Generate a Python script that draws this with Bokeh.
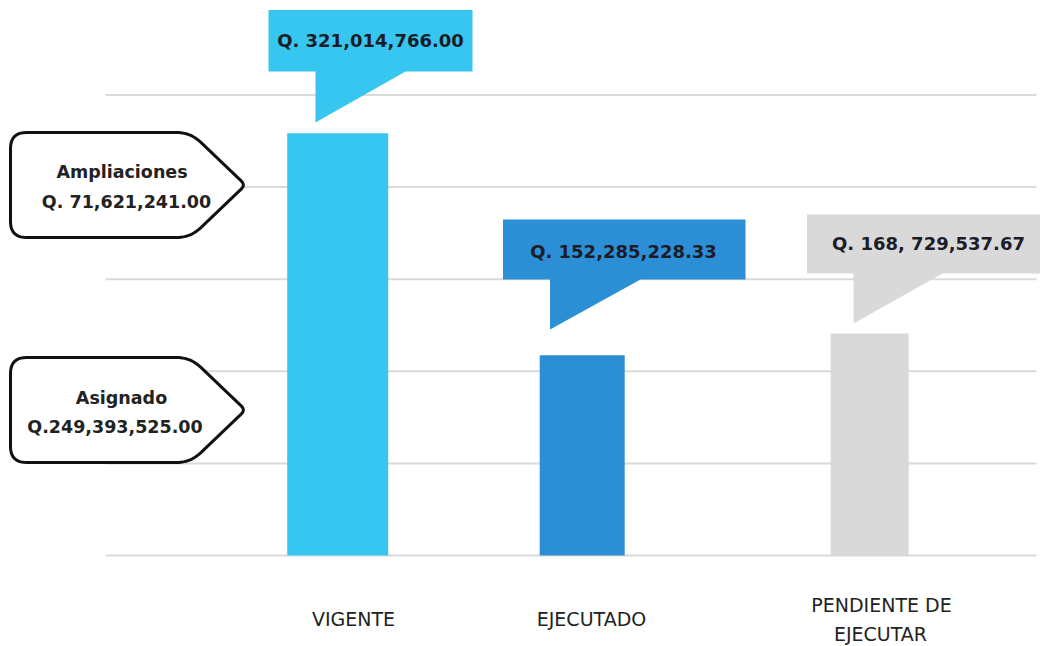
import math
from bokeh.plotting import figure
from bokeh.models import Range1d
from bokeh.core.properties import value
from bokeh.embed import file_html
from bokeh.resources import INLINE

# ---------------- data ----------------
categories = ["VIGENTE", "EJECUTADO", "PENDIENTE DE EJECUTAR"]
category_lines = [["VIGENTE"], ["EJECUTADO"], ["PENDIENTE DE", "EJECUTAR"]]
values = [321014766.00, 152285228.33, 168729537.67]
value_labels = ["Q. 321,014,766.00", "Q. 152,285,228.33", "Q. 168, 729,537.67"]
component_names = ["Ampliaciones", "Asignado"]
component_values = [71621241.00, 249393525.00]
component_labels = ["Q. 71,621,241.00", "Q.249,393,525.00"]
grid_ticks = [0, 70e6, 140e6, 210e6, 280e6, 350e6]

# ---------------- styles / layout ----------------
bar_colors = ["#37c6ef", "#2c8fd6", "#d9d9d9"]
text_dark = "#1c1c28"
bar_centers = [337.2, 581.7, 869.2]
bar_widths = [101, 85, 78]

W, H = 1040, 646
Y0 = 555.0                 # page y of value 0
K = 92.1 / 70e6            # page px per unit


def py(page_y):
    return (Y0 - page_y) / K


p = figure(width=W, height=H, output_backend="svg", toolbar_location=None,
           x_range=Range1d(0, W), y_range=Range1d(py(H), py(0)),
           x_axis_location=None, y_axis_location=None, min_border=0)
p.outline_line_color = None
p.grid.visible = False
p.background_fill_color = "white"

# gridlines
p.segment(x0=[105] * len(grid_ticks), x1=[1036] * len(grid_ticks),
          y0=grid_ticks, y1=grid_ticks, line_color="#dadada", line_width=2)

# bars
p.vbar(x=bar_centers, width=bar_widths, top=values, bottom=0,
       fill_color=bar_colors, line_color=None)

# value callouts (rect + tail), page coordinates
callouts = [
    dict(rect=(268, 472, 9.5, 71), tail=(315, 405, 122), text=(370, 40)),
    dict(rect=(502.5, 745, 219, 279), tail=(549.5, 640, 329), text=(623, 251)),
    dict(rect=(806.5, 1045, 214, 273), tail=(853, 942, 323), text=(928, 243)),
]
for c, col, lab in zip(callouts, bar_colors, value_labels):
    l, r, t, b = c["rect"]
    xl, xr, tip = c["tail"]
    xs = [l, r, r, xr, xl, xl, l]
    ys = [t, t, b, b, tip, b, b]
    p.patch(x=xs, y=[py(v) for v in ys], fill_color=col, line_color=None)
    p.text(x=[c["text"][0]], y=[py(c["text"][1])], text=[lab],
           text_align="center", text_baseline="middle",
           text_font=value("DejaVu Sans"), text_font_style="bold",
           text_font_size="18px", text_color=text_dark)


def rounded(pts, radii, n=10):
    out = []
    N = len(pts)
    for i in range(N):
        p0, p1, p2 = pts[i - 1], pts[i], pts[(i + 1) % N]
        r = radii[i]
        d1 = math.hypot(p0[0] - p1[0], p0[1] - p1[1])
        d2 = math.hypot(p2[0] - p1[0], p2[1] - p1[1])
        rr = min(r, d1 / 2, d2 / 2)
        if rr <= 0:
            out.append(p1)
            continue
        a = (p1[0] + (p0[0] - p1[0]) * rr / d1, p1[1] + (p0[1] - p1[1]) * rr / d1)
        bb = (p1[0] + (p2[0] - p1[0]) * rr / d2, p1[1] + (p2[1] - p1[1]) * rr / d2)
        for k in range(n + 1):
            tt = k / n
            x = (1 - tt) ** 2 * a[0] + 2 * (1 - tt) * tt * p1[0] + tt ** 2 * bb[0]
            y = (1 - tt) ** 2 * a[1] + 2 * (1 - tt) * tt * p1[1] + tt ** 2 * bb[1]
            out.append((x, y))
    return out


# left tag boxes (page coordinates)
tags = [
    dict(box=(10, 190, 245, 132, 237), lines=[(121.5, 171.5), (126, 201.5)]),
    dict(box=(10, 190, 245, 357, 462), lines=[(121, 397.5), (114.5, 426.5)]),
]
for tag, name, lab in zip(tags, component_names, component_labels):
    l, s, tipx, t, b = tag["box"]
    m = (t + b) / 2
    pts = [(l, t), (s, t), (tipx, m), (s, b), (l, b)]
    rp = rounded(pts, [16, 14, 6, 14, 16])
    p.patch(x=[q[0] for q in rp], y=[py(q[1]) for q in rp], fill_color="white",
            line_color="#111111", line_width=3, line_join="round")
    (x1, y1), (x2, y2) = tag["lines"]
    p.text(x=[x1, x2], y=[py(y1), py(y2)], text=[name, lab],
           text_align="center", text_baseline="middle",
           text_font=value("DejaVu Sans"), text_font_style="bold",
           text_font_size="17.5px", text_color="#222222")

# category labels
label_pos = [[(353, 618)], [(591, 618)], [(881, 604), (880, 633)]]
for lines, poss in zip(category_lines, label_pos):
    p.text(x=[q[0] for q in poss], y=[py(q[1]) for q in poss], text=lines,
           text_align="center", text_baseline="middle",
           text_font=value("DejaVu Sans"), text_font_size="19px",
           text_color="#222222")

open("out.html", "w").write(file_html(p, INLINE))
